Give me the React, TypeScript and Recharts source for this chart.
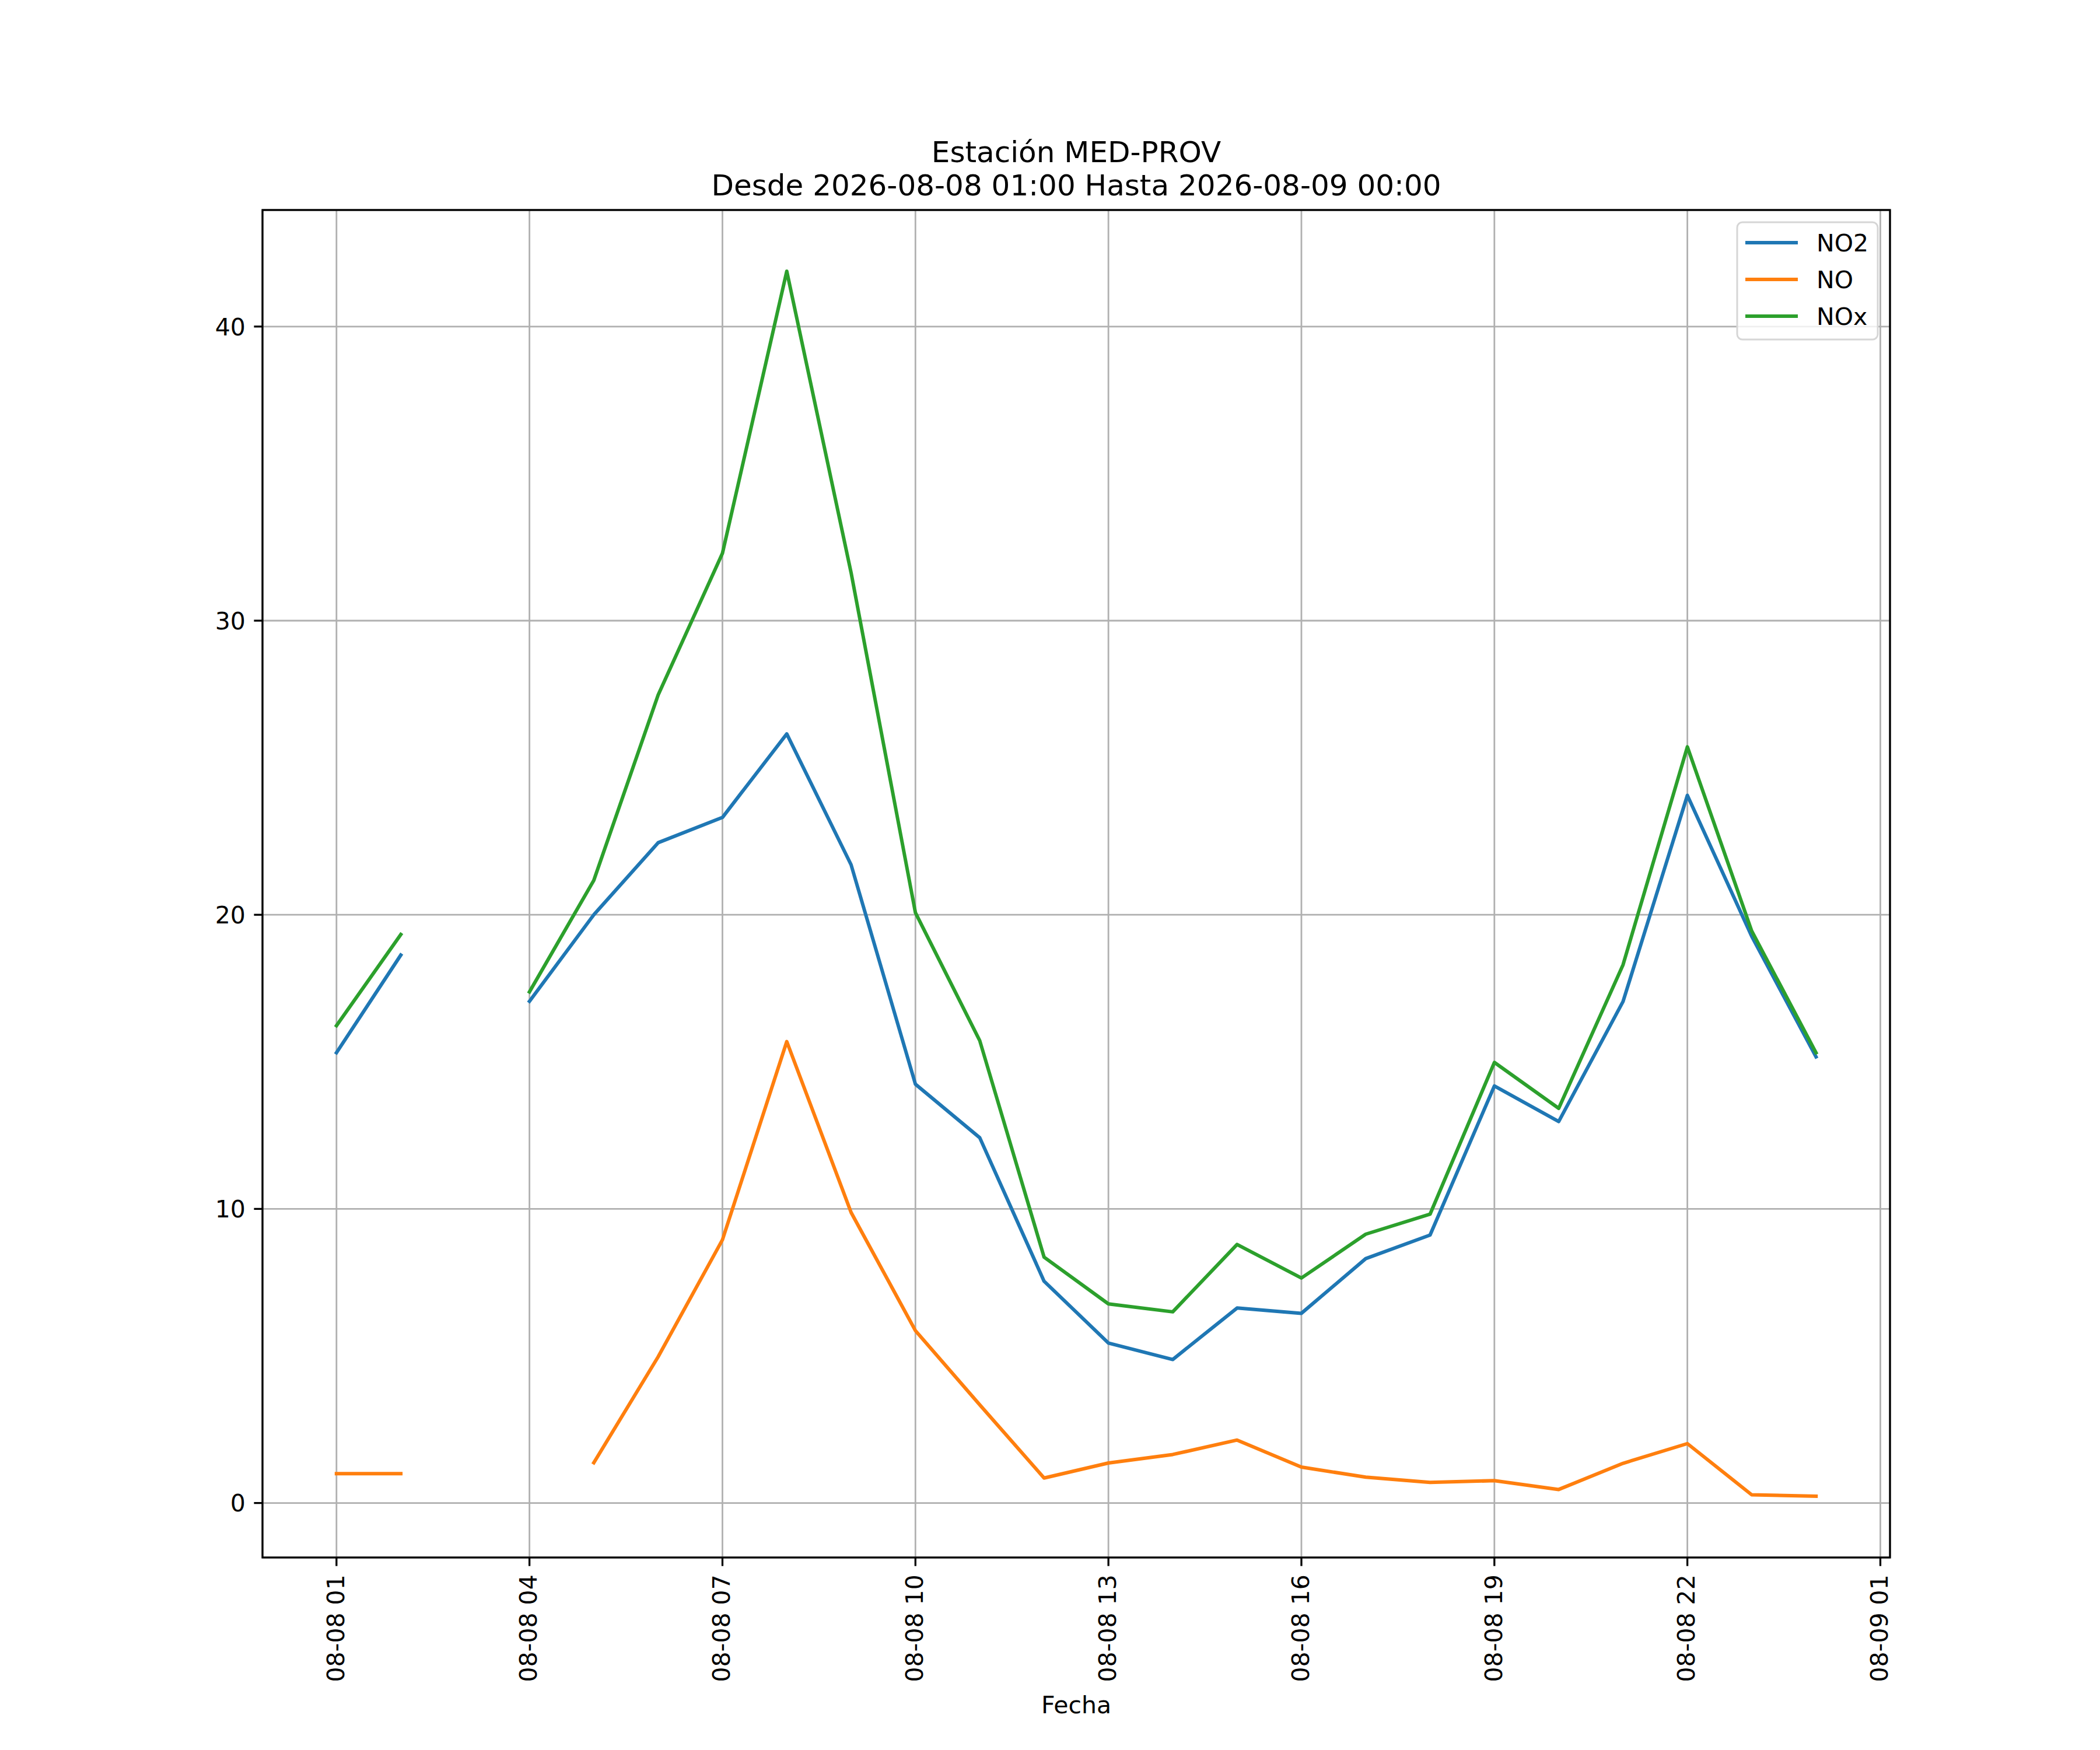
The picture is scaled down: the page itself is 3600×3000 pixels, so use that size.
import React from 'react';
import { LineChart, Line, XAxis, YAxis, CartesianGrid } from 'recharts';

const FONT = '"DejaVu Sans", "Liberation Sans", sans-serif';

// hours of 2026-08-08 (24 = 2026-08-09 00:00)
const hours = [1, 2, 3, 4, 5, 6, 7, 8, 9, 10, 11, 12, 13, 14, 15, 16, 17, 18, 19, 20, 21, 22, 23, 24];

const no2 = [15.31, 18.63, null, 17.06, 20.0, 22.45, 23.31, 26.15, 21.7, 14.24, 12.42, 7.54, 5.44, 4.88, 6.63, 6.45, 8.31, 9.11, 14.18, 12.97, 17.05, 24.06, 19.27, 15.17];
const no = [1.0, 1.0, null, null, 1.37, 4.97, 8.95, 15.69, 9.88, 5.86, 3.34, 0.85, 1.36, 1.65, 2.14, 1.22, 0.88, 0.7, 0.76, 0.46, 1.35, 2.02, 0.28, 0.23];
const nox = [16.23, 19.33, null, 17.38, 21.17, 27.47, 32.29, 41.88, 31.63, 20.07, 15.72, 8.36, 6.77, 6.5, 8.79, 7.65, 9.14, 9.82, 14.98, 13.42, 18.3, 25.71, 19.45, 15.31];

const xTickValues = [1, 4, 7, 10, 13, 16, 19, 22, 25];
const xTickLabels = ['08-08 01', '08-08 04', '08-08 07', '08-08 10', '08-08 13', '08-08 16', '08-08 19', '08-08 22', '08-09 01'];
const yTickValues = [0, 10, 20, 30, 40];

const series = [
  { key: 'NO2', color: '#1f77b4' },
  { key: 'NO', color: '#ff7f0e' },
  { key: 'NOx', color: '#2ca02c' },
];

const data = hours.map((h, i) => ({ hour: h, NO2: no2[i], NO: no[i], NOx: nox[i] }));

// matplotlib-like 5% margins
const allVals = [...no2, ...no, ...nox].filter((v) => v !== null) as number[];
const yMin = Math.min(...allVals);
const yMax = Math.max(...allVals);
const yPad = (yMax - yMin) * 0.05;
const xPad = (hours[hours.length - 1] - hours[0]) * 0.05;

const W = 3600;
const H = 3000;
const PLOT = { left: 450, right: 3240, top: 360, bottom: 2670 };
const TICK_FS = 41;
const TITLE_FS = 50;

const XTick = (props: any) => {
  const { x, y, payload } = props;
  const idx = xTickValues.indexOf(payload.value);
  return (
    <text
      x={x}
      y={y}
      transform={`rotate(-90, ${x}, ${y})`}
      textAnchor="end"
      dy="0.31em"
      fontSize={TICK_FS}
      fontFamily={FONT}
      fill="#000"
    >
      {xTickLabels[idx]}
    </text>
  );
};

const YTick = (props: any) => {
  const { x, y, payload } = props;
  return (
    <text x={x} y={y} textAnchor="end" dy="0.36em" fontSize={TICK_FS} fontFamily={FONT} fill="#000">
      {payload.value}
    </text>
  );
};

export default function App() {
  const cx = (PLOT.left + PLOT.right) / 2;
  return (
    <div style={{ position: 'absolute', left: 0, top: 0, width: W, height: H, background: '#fff' }}>
      <LineChart
        width={W}
        height={H}
        data={data}
        margin={{ top: PLOT.top, right: W - PLOT.right, bottom: 0, left: 0 }}
      >
        <CartesianGrid stroke="#b0b0b0" strokeWidth={2.8} />
        <XAxis
          dataKey="hour"
          type="number"
          domain={[hours[0] - xPad, hours[hours.length - 1] + xPad]}
          ticks={xTickValues}
          allowDataOverflow
          height={H - PLOT.bottom}
          axisLine={false}
          tickLine={{ stroke: '#000', strokeWidth: 3.3 }}
          tickSize={14.6}
          tickMargin={14.6}
          tick={<XTick />}
          interval={0}
        />
        <YAxis
          type="number"
          domain={[yMin - yPad, yMax + yPad]}
          ticks={yTickValues}
          allowDataOverflow
          width={PLOT.left}
          axisLine={false}
          tickLine={{ stroke: '#000', strokeWidth: 3.3 }}
          tickSize={14.6}
          tickMargin={14.6}
          tick={<YTick />}
          interval={0}
        />
        {series.map((s) => (
          <Line
            key={s.key}
            type="linear"
            dataKey={s.key}
            stroke={s.color}
            strokeWidth={6}
            strokeLinejoin="round"
            strokeLinecap="square"
            dot={false}
            activeDot={false}
            connectNulls={false}
            isAnimationActive={false}
          />
        ))}
      </LineChart>
      <svg
        width={W}
        height={H}
        style={{ position: 'absolute', left: 0, top: 0, pointerEvents: 'none' }}
      >
        <rect
          x={PLOT.left}
          y={PLOT.top}
          width={PLOT.right - PLOT.left}
          height={PLOT.bottom - PLOT.top}
          fill="none"
          stroke="#000"
          strokeWidth={3.3}
        />
        <text x={cx} y={278} textAnchor="middle" fontSize={TITLE_FS} fontFamily={FONT} fill="#000">
          Estación MED-PROV
        </text>
        <text x={cx} y={335} textAnchor="middle" fontSize={TITLE_FS} fontFamily={FONT} fill="#000">
          Desde 2026-08-08 01:00 Hasta 2026-08-09 00:00
        </text>
        <text x={cx} y={2937} textAnchor="middle" fontSize={TICK_FS} fontFamily={FONT} fill="#000">
          Fecha
        </text>
        <g>
          <rect x={2978} y={381} width={241} height={201} rx={9} ry={9} fill="#fff" fillOpacity={0.8} stroke="#d6d6d6" strokeWidth={3} />
          {series.map((s, i) => (
            <g key={s.key}>
              <line x1={2992} x2={3082} y1={416 + i * 63} y2={416 + i * 63} stroke={s.color} strokeWidth={6} />
              <text x={3114} y={431 + i * 63} fontSize={TICK_FS} fontFamily={FONT} fill="#000">
                {s.key}
              </text>
            </g>
          ))}
        </g>
      </svg>
    </div>
  );
}
